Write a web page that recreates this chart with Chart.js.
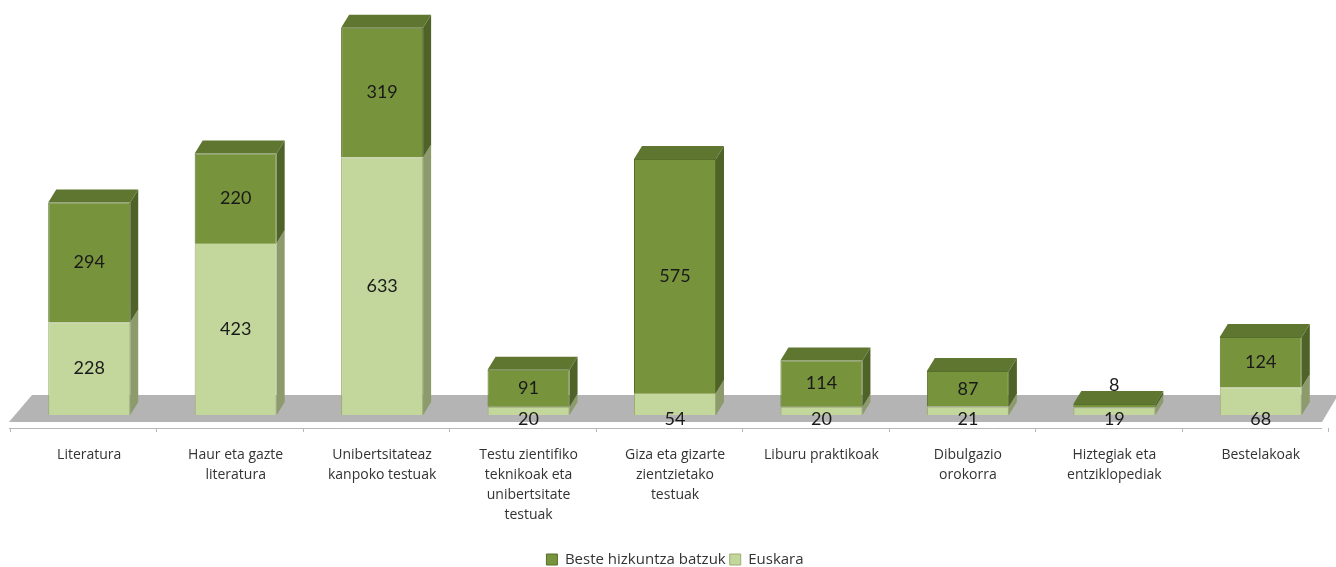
<!DOCTYPE html>
<html>
<head>
<meta charset="utf-8">
<script src="https://cdn.jsdelivr.net/npm/chart.js@4.4.1/dist/chart.umd.min.js"></script>
<style>
  html, body { margin: 0; padding: 0; background: #fff; }
  #wrap { width: 1336px; height: 567px; }
</style>
</head>
<body>
<div id="wrap"><canvas id="myChart" width="1336" height="567"></canvas></div>
<script>
// Data
const categories = [
  "Literatura",
  ["Haur eta gazte", "literatura"],
  ["Unibertsitateaz", "kanpoko testuak"],
  ["Testu zientifiko", "teknikoak eta", "unibertsitate", "testuak"],
  ["Giza eta gizarte", "zientzietako", "testuak"],
  "Liburu praktikoak",
  ["Dibulgazio", "orokorra"],
  ["Hiztegiak eta", "entziklopediak"],
  "Bestelakoak"
];
const euskara = [228, 423, 633, 20, 54, 20, 21, 19, 68];
const besteak = [294, 220, 319, 91, 575, 114, 87, 8, 124];

// Colours
const DARK = "#77933C", DARK_TOP = "#5E7630", DARK_SIDE = "#4F6228";
const LIGHT = "#C3D69B", LIGHT_TOP = "#A9BC80", LIGHT_SIDE = "#8C9A6C";
const FLOOR = "#B4B4B4";
const DX = 8, DY = -13; // depth of the 3D bars
const BOTTOM = 415;     // where the bar fronts stand

function poly(ctx, pts, fill) {
  ctx.beginPath();
  ctx.moveTo(pts[0][0], pts[0][1]);
  for (let i = 1; i < pts.length; i++) ctx.lineTo(pts[i][0], pts[i][1]);
  ctx.closePath();
  ctx.fillStyle = fill;
  ctx.fill();
}

// floor + axis line, drawn behind the bars
const floorPlugin = {
  id: "floor",
  beforeDatasetsDraw(chart) {
    const { ctx, chartArea } = chart;
    const x = chart.scales.x;
    const b = chartArea.bottom;
    ctx.save();
    poly(ctx, [
      [chartArea.left - 7, b + 7],
      [chartArea.right - 12, b + 7],
      [chartArea.right + 4, b - 20],
      [chartArea.left + 16, b - 20]
    ], FLOOR);
    // axis line + ticks
    ctx.strokeStyle = "#B8B8B8";
    ctx.lineWidth = 1;
    ctx.beginPath();
    ctx.moveTo(chartArea.left - 7, b + 13.5);
    ctx.lineTo(chartArea.right - 12, b + 13.5);
    const step = (x.right - x.left) / categories.length;
    for (let i = 0; i <= categories.length; i++) {
      const tx = Math.round(x.left + step * i - 6) + 0.5;
      ctx.moveTo(tx, b + 13);
      ctx.lineTo(tx, b + 17);
    }
    ctx.stroke();
    ctx.restore();
  }
};

// side and top faces + value labels
const depthPlugin = {
  id: "depth",
  afterDatasetsDraw(chart) {
    const { ctx } = chart;
    ctx.save();
    chart.data.datasets.forEach((ds, di) => {
      const meta = chart.getDatasetMeta(di);
      meta.data.forEach((bar, i) => {
        const r = bar.x + bar.width / 2, l = bar.x - bar.width / 2;
        const top = bar.y, bot = bar.base;
        poly(ctx, [[r, bot], [r, top], [r + DX, top + DY], [r + DX, bot + DY]],
          di === 0 ? LIGHT_SIDE : DARK_SIDE);
        if (di === chart.data.datasets.length - 1) {
          poly(ctx, [[l, top], [r, top], [r + DX, top + DY], [l + DX, top + DY]],
            di === 0 ? LIGHT_TOP : DARK_TOP);
        }
      });
    });
    // labels
    ctx.fillStyle = "#1a1a1a";
    ctx.font = "18px Lato, 'Open Sans', sans-serif";
    ctx.textAlign = "center";
    ctx.textBaseline = "middle";
    chart.data.datasets.forEach((ds, di) => {
      const meta = chart.getDatasetMeta(di);
      meta.data.forEach((bar, i) => {
        const h = bar.base - bar.y;
        let y = (bar.y + bar.base) / 2;
        if (di === 0 && h < 30) y = bar.base + 4;
        if (di === 1 && h < 12) y = bar.y + DY - 6;
        ctx.fillText(String(ds.data[i]), bar.x, y);
      });
    });
    ctx.restore();
  }
};

Chart.defaults.font.family = "'Open Sans', Lato, sans-serif";
Chart.defaults.color = "#333";

let ctx = document.getElementById("myChart").getContext("2d");
let myChart = new Chart(ctx, {
  type: "bar",
  data: {
    labels: categories,
    datasets: [
      {
        label: "Euskara",
        data: euskara,
        backgroundColor: LIGHT,
        borderColor: "#9AAE6E",
        borderWidth: 1,
        barPercentage: 0.56,
        categoryPercentage: 1
      },
      {
        label: "Beste hizkuntza batzuk",
        data: besteak,
        backgroundColor: DARK,
        borderColor: "#55702A",
        borderWidth: 1,
        barPercentage: 0.56,
        categoryPercentage: 1
      }
    ]
  },
  options: {
    responsive: false,
    animation: false,
    layout: { padding: { left: 16, right: 2, top: 0, bottom: -10 } },
    plugins: {
      tooltip: { enabled: false },
      legend: {
        position: "bottom",
        reverse: true,
        labels: {
          boxWidth: 11,
          boxHeight: 11,
          padding: 4,
          font: { size: 15 },
          color: "#333"
        }
      }
    },
    scales: {
      x: {
        stacked: true,
        grid: { display: false, drawTicks: false },
        border: { display: false },
        ticks: {
          padding: 30,
          maxRotation: 0,
          autoSkip: false,
          font: { size: 14, lineHeight: 1.43 },
          color: "#333"
        },
        afterFit(scale) {
          // keep the bar fronts standing on y = BOTTOM
          const c = scale.chart;
          const lg = c.legend ? c.legend.height : 30;
          scale.height = c.height + 10 - lg - BOTTOM;
        }
      },
      y: {
        stacked: true,
        display: false,
        min: 0,
        max: 1020
      }
    }
  },
  plugins: [floorPlugin, depthPlugin]
});
</script>
</body>
</html>
